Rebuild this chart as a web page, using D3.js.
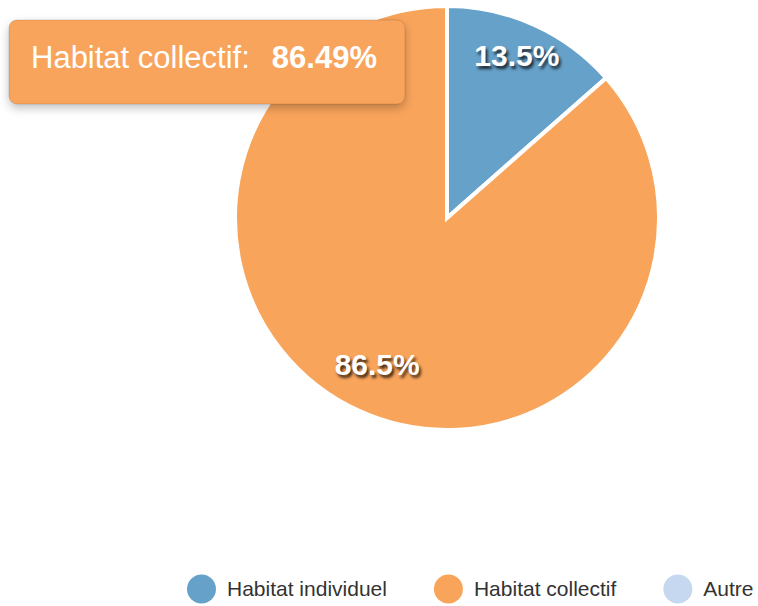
<!DOCTYPE html>
<html>
<head>
<meta charset="utf-8">
<script src="https://cdn.jsdelivr.net/npm/d3@7"></script>
<style>
  body { margin: 0; background: #fff; font-family: "Liberation Sans", Arial, sans-serif; }
  .slice-label { fill: #fff; font-weight: bold; font-size: 30px; text-shadow: 2px 3px 3px rgba(0,0,0,0.75); }
  .legend text { fill: #333; font-size: 21px; }
</style>
</head>
<body>
<div id="chart"></div>
<script>
// data
var categories = ["Habitat individuel", "Habitat collectif", "Autre"];
var values = [13.51, 86.49, 0];
var colors = ["#66a1c9", "#f9a45b", "#c6d8ef"];
var tooltipIndex = 1; // slice under the mouse

var width = 758, height = 606;
var cx = 447, cy = 218, radius = 212;

var svg = d3.select("#chart").append("svg")
  .attr("width", width)
  .attr("height", height);

var defs = svg.append("defs");
var shadow = defs.append("filter").attr("id", "tipShadow")
  .attr("x", "-10%").attr("y", "-20%").attr("width", "120%").attr("height", "150%");
shadow.append("feDropShadow")
  .attr("dx", 0).attr("dy", 4).attr("stdDeviation", 5)
  .attr("flood-color", "#000").attr("flood-opacity", 0.25);

var color = d3.scaleOrdinal().domain(categories).range(colors);

var pie = d3.pie().sort(null).value(d => d.value);
var arcs = pie(categories.map((c, i) => ({ name: c, value: values[i] })));

var arc = d3.arc().innerRadius(0).outerRadius(radius);
var labelArc = d3.arc().innerRadius(radius * 0.8).outerRadius(radius * 0.8);

var g = svg.append("g").attr("transform", "translate(" + cx + "," + cy + ")");

g.selectAll("path.slice")
  .data(arcs.filter(d => d.data.value > 0))
  .enter().append("path")
  .attr("class", "slice")
  .attr("d", arc)
  .attr("fill", d => color(d.data.name))
  .attr("stroke", "#fff")
  .attr("stroke-width", 4)
  .attr("stroke-linejoin", "miter");

g.selectAll("text.slice-label")
  .data(arcs.filter(d => d.data.value > 0))
  .enter().append("text")
  .attr("class", "slice-label")
  .attr("transform", d => "translate(" + labelArc.centroid(d) + ")")
  .attr("text-anchor", "middle")
  .attr("dy", "0.07em")
  .text(d => d3.format(".1f")(d.data.value) + "%");

// legend
var legend = svg.append("g").attr("class", "legend")
  .attr("transform", "translate(187,589)");
var lx = 0;
categories.forEach(function (c) {
  var item = legend.append("g").attr("transform", "translate(" + lx + ",0)");
  item.append("circle").attr("cx", 14.5).attr("cy", 0).attr("r", 14.5).attr("fill", color(c));
  var t = item.append("text").attr("x", 40).attr("dy", "0.35em").text(c);
  lx += 40 + t.node().getComputedTextLength() + 47;
});

// tooltip
var tip = svg.append("g").attr("transform", "translate(9,20)");
tip.append("rect")
  .attr("width", 396).attr("height", 84).attr("rx", 8)
  .attr("fill", color(categories[tooltipIndex]))
  .attr("stroke", "rgba(0,0,0,0.12)")
  .attr("stroke-width", 1)
  .attr("filter", "url(#tipShadow)");
var tt = tip.append("text")
  .attr("x", 22).attr("y", 48)
  .attr("fill", "#fff")
  .style("font-size", "31px");
tt.append("tspan").text(categories[tooltipIndex] + ":");
tt.append("tspan").attr("dx", 22).style("font-weight", "bold")
  .text(d3.format(".2f")(values[tooltipIndex]) + "%");
</script>
</body>
</html>
